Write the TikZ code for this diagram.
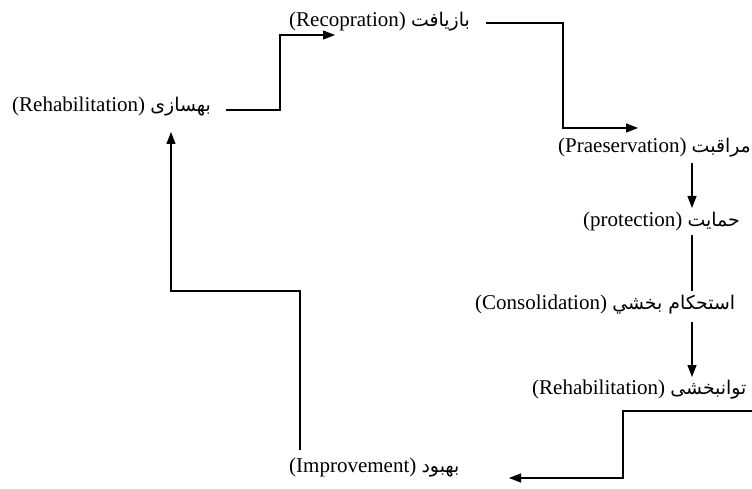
\documentclass[tikz,border=0pt]{standalone}
\usepackage{fontspec}
\setmainfont{Liberation Serif}
\newfontfamily\arabicfont[Script=Arabic,Scale=0.9]{DejaVu Sans}
\TeXXeTstate=1
\usetikzlibrary{arrows.meta}
\newcommand{\fa}[1]{{\arabicfont\beginR #1\endR}}
\begin{document}
\begin{tikzpicture}[x=1pt,y=-1pt,
  lbl/.style={inner sep=0pt, anchor=west, font=\fontsize{21}{25}\selectfont},
  conn/.style={line width=1.3pt},
  arr/.style={conn,-{Triangle[length=12pt,width=9pt]}}]
\useasboundingbox (0,0) rectangle (752,489);
\node[lbl] (n1) at (12,107) {(Rehabilitation) \fa{بهسازی}};
\node[lbl] (n2) at (289,22) {(Recopration) \fa{بازیافت}};
\node[lbl] (n3) at (558,148) {(Praeservation) \fa{مراقبت}};
\node[lbl] (n4) at (583,221) {(protection) \fa{حمایت}};
\node[lbl] (n5) at (475,305) {(Consolidation) \fa{استحکام بخشي}};
\node[lbl] (n6) at (532,390) {(Rehabilitation) \fa{توانبخشی}};
\node[lbl] (n7) at (289,468) {(Improvement) \fa{بهبود}};
% waypoints
\coordinate (a1) at (226,110);
\coordinate (a2) at (280,35);
\coordinate (e2) at (335,35);
\coordinate (b1) at (486,23);
\coordinate (b2) at (563,128);
\coordinate (e3) at (638,128);
\coordinate (c1) at (692,163);
\coordinate (e4) at (692,208);
\coordinate (d1) at (692,235);
\coordinate (d2) at (692,291);
\coordinate (f1) at (692,322);
\coordinate (e6) at (692,377);
\coordinate (g1) at (752,411);
\coordinate (g2) at (623,478);
\coordinate (e7) at (509,478);
\coordinate (h1) at (300,450);
\coordinate (h2) at (171,291);
\coordinate (e1) at (171,132);
\draw[arr] (a1) -| (a2) -- (e2);
\draw[arr] (b1) -| (b2) -- (e3);
\draw[arr] (c1) -- (e4);
\draw[conn] (d1) -- (d2);
\draw[arr] (f1) -- (e6);
\draw[arr] (g1) -| (g2) -- (e7);
\draw[arr] (h1) |- (h2) -- (e1);
\end{tikzpicture}
\end{document}
